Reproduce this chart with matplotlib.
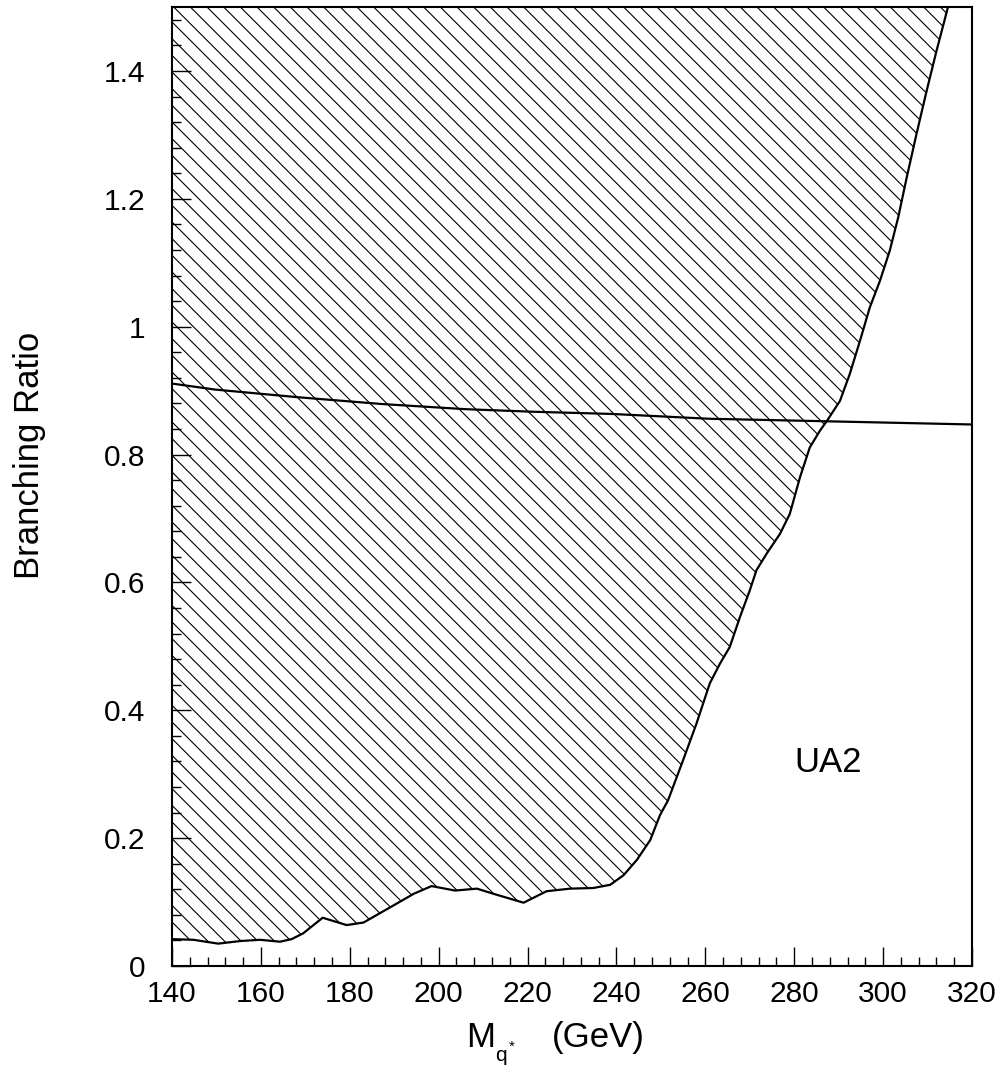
import matplotlib
matplotlib.use("Agg")
import matplotlib.pyplot as plt
from matplotlib.ticker import MultipleLocator

plt.rcParams['font.family'] = ['Liberation Sans', 'DejaVu Sans']
plt.rcParams['hatch.linewidth'] = 0.8

# Excluded-region boundary (UA2)
bound_x = [140, 144.8, 150.4, 155.3, 159.8, 164.3, 166.9, 169.5, 173.9, 179.3, 183.1,
           189.9, 194.4, 198.4, 203.7, 208.6, 212.3, 219.1, 224.3, 229.6, 234.8, 238.6,
           241.6, 244.6, 247.6, 249.8, 251.6, 255.0, 258.0, 261.0, 263.3, 265.5, 267.8,
           270.0, 271.5, 273.8, 276.8, 279.0, 281.3, 283.5, 285.8, 287.3, 290.3, 292.5,
           294.8, 297.0, 299.3, 301.5, 303.4, 305.3, 307.5, 309.8, 312.0, 314.6]
bound_y = [0.042, 0.041, 0.035, 0.039, 0.041, 0.038, 0.042, 0.051, 0.0755, 0.064, 0.068,
           0.095, 0.113, 0.125, 0.118, 0.121, 0.113, 0.099, 0.117, 0.121, 0.122, 0.127,
           0.142, 0.166, 0.197, 0.236, 0.259, 0.322, 0.379, 0.442, 0.473, 0.499, 0.546,
           0.5875, 0.619, 0.645, 0.676, 0.707, 0.7645, 0.811, 0.8375, 0.852, 0.884, 0.926,
           0.978, 1.030, 1.072, 1.119, 1.171, 1.233, 1.301, 1.369, 1.431, 1.50]

# Theoretical branching ratio curve
br_x = [140, 149.7, 168.4, 187.2, 205.9, 220.9, 238.9, 260.7, 287.3, 320]
br_y = [0.911, 0.9016, 0.8896, 0.879, 0.871, 0.867, 0.8635, 0.856, 0.852, 0.847]

x_ticks = [140, 160, 180, 200, 220, 240, 260, 280, 300, 320]
y_ticks = [0, 0.2, 0.4, 0.6, 0.8, 1.0, 1.2, 1.4]
y_ticklabels = ['0', '0.2', '0.4', '0.6', '0.8', '1', '1.2', '1.4']

W, H = 1004, 1071
fig = plt.figure(figsize=(W / 100, H / 100), dpi=100)
ax = fig.add_axes([172/W, 1 - 966/H, 800/W, 959/H])

ax.fill_between(bound_x, bound_y, 1.5, facecolor='none', edgecolor='black',
                hatch='\\\\', linewidth=0)
ax.plot(bound_x, bound_y, color='black', lw=1.6, solid_joinstyle='round')
ax.plot(br_x, br_y, color='black', lw=1.6, solid_joinstyle='round')

ax.text(287.6, 0.319, 'UA2', fontsize=25, ha='center', va='center')

ax.set_xlim(140, 320)
ax.set_ylim(0, 1.5)
ax.set_xticks(x_ticks)
ax.set_yticks(y_ticks)
ax.set_yticklabels(y_ticklabels)
ax.xaxis.set_minor_locator(MultipleLocator(4))
ax.yaxis.set_minor_locator(MultipleLocator(0.04))
ax.tick_params(which='both', direction='in', top=False, right=False, width=1.0,
               labelsize=21.5)
ax.tick_params(which='major', length=13.7)
ax.tick_params(which='minor', length=6.5)
ax.tick_params(axis='y', which='major', pad=19)
ax.tick_params(axis='x', which='major', pad=10)
for s in ax.spines.values():
    s.set_linewidth(1.5)

fig.text(30/W, 1 - 455.5/H, 'Branching Ratio', rotation=90, fontsize=25,
         ha='center', va='center')

# x-axis title: M_{q*}   (GeV)
fig.text(466/W, 1 - 1047/H, 'M', fontsize=25, ha='left', va='baseline')
fig.text(495/W, 1 - 1061/H, 'q', fontsize=15, ha='left', va='baseline')
fig.text(509/W, 1 - 1051/H, '*', fontsize=11, ha='left', va='baseline')
fig.text(552/W, 1 - 1047/H, '(GeV)', fontsize=25, ha='left', va='baseline')

fig.savefig('out.png', dpi=100)
